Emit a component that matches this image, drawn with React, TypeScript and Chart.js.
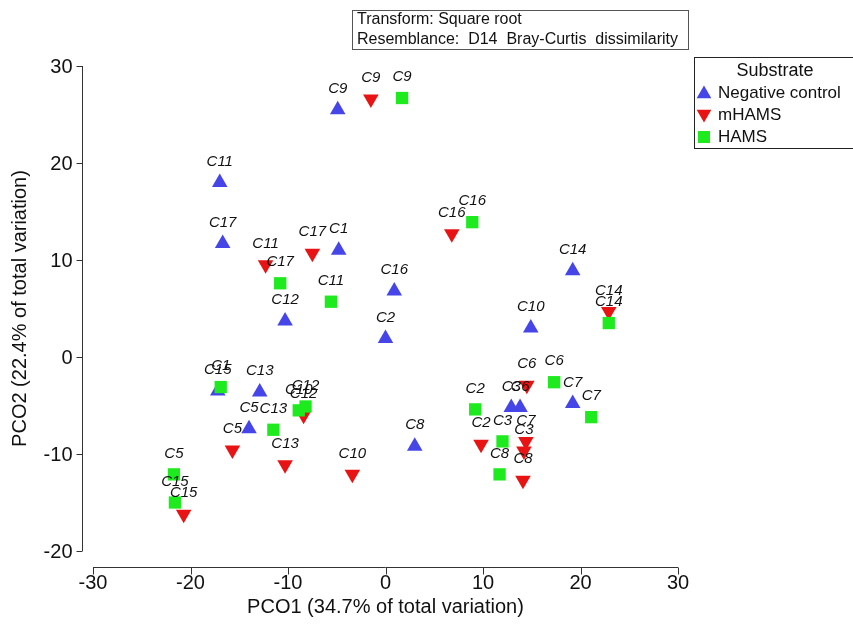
import React, { useEffect, useRef } from "react";
import { Chart, registerables } from "chart.js";

Chart.register(...registerables);

// PCO ordination scores per substrate group
const negLabels = ["C9", "C11", "C17", "C1", "C16", "C12", "C2", "C14", "C10", "C15", "C13", "C5", "C8", "C3", "C6", "C7"];
const negX = [-4.9, -17.0, -16.7, -4.8, 0.9, -10.3, 0.0, 19.2, 14.9, -17.2, -12.9, -14.0, 3.0, 12.9, 13.8, 19.2];
const negY = [25.5, 18.0, 11.7, 11.0, 6.8, 3.7, 1.9, 8.9, 3.0, -3.5, -3.6, -7.4, -9.2, -5.2, -5.2, -4.8];

const mhLabels = ["C9", "C16", "C11", "C17", "C14", "C12", "C5", "C13", "C10", "C15", "C2", "C6", "C7", "C3", "C8"];
const mhX = [-1.5, 6.8, -12.3, -7.5, 22.9, -8.4, -15.7, -10.3, -3.4, -20.7, 9.8, 14.5, 14.4, 14.2, 14.1];
const mhY = [26.6, 12.7, 9.5, 10.7, 4.7, -6.0, -9.6, -11.1, -12.1, -16.2, -9.0, -2.9, -8.7, -9.7, -12.7];

const hLabels = ["C9", "C16", "C17", "C11", "C14", "C1", "C10", "C12", "C13", "C5", "C15", "C6", "C7", "C2", "C3", "C8"];
const hX = [1.7, 8.9, -10.8, -5.6, 22.9, -16.9, -8.9, -8.2, -11.5, -21.7, -21.6, 17.3, 21.1, 9.2, 12.0, 11.7];
const hY = [26.7, 13.9, 7.6, 5.7, 3.5, -3.1, -5.5, -5.1, -7.5, -12.1, -15.0, -2.6, -6.2, -5.4, -8.7, -12.1];

const xTicks = [-30, -20, -10, 0, 10, 20, 30];
const yTicks = [-20, -10, 0, 10, 20, 30];

const groupNames = ["Negative control", "mHAMS", "HAMS"];
const groupColors = ["#4646e8", "#e81414", "#1eeb1e"];

const xTitle = "PCO1 (34.7% of total variation)";
const yTitle = "PCO2 (22.4% of total variation)";
const legendTitle = "Substrate";
const noteLines = ["Transform: Square root", "Resemblance:  D14  Bray-Curtis  dissimilarity"];

const FONT = '"Liberation Sans", Arial, sans-serif';

const toPoints = (xs: number[], ys: number[]) => xs.map((x, i) => ({ x, y: ys[i] }));

function drawMarker(ctx: CanvasRenderingContext2D, kind: number, x: number, y: number, r: number) {
  ctx.beginPath();
  if (kind === 2) {
    const s = r * Math.SQRT1_2;
    ctx.rect(x - s, y - s, 2 * s, 2 * s);
  } else {
    let a = kind === 1 ? Math.PI : 0;
    for (let k = 0; k < 3; k++) {
      const px = x + Math.sin(a) * r;
      const py = y - Math.cos(a) * r;
      if (k === 0) ctx.moveTo(px, py);
      else ctx.lineTo(px, py);
      a += (2 * Math.PI) / 3;
    }
    ctx.closePath();
  }
  ctx.fillStyle = groupColors[kind];
  ctx.fill();
}

const decorations = {
  id: "pcoDecorations",
  afterDatasetsDraw(chart: any) {
    const ctx: CanvasRenderingContext2D = chart.ctx;
    const xs = chart.scales.x;
    const ys = chart.scales.y;
    const area = chart.chartArea;
    ctx.save();

    // sample labels
    const labelSets = [
      [negLabels, negX, negY],
      [mhLabels, mhX, mhY],
      [hLabels, hX, hY],
    ] as [string[], number[], number[]][];
    ctx.font = `italic 15px ${FONT}`;
    ctx.fillStyle = "#111";
    ctx.textAlign = "center";
    ctx.textBaseline = "middle";
    labelSets.forEach(([labs, vx, vy]) => {
      labs.forEach((lab, i) => {
        ctx.fillText(lab, xs.getPixelForValue(vx[i]), ys.getPixelForValue(vy[i]) - 21);
      });
    });

    ctx.strokeStyle = "#333";
    ctx.lineWidth = 1;
    ctx.fillStyle = "#111";

    // detached y axis
    const ax = Math.round(area.left - 11) + 0.5;
    const yTop = ys.getPixelForValue(yTicks[yTicks.length - 1]);
    const yBot = ys.getPixelForValue(yTicks[0]);
    ctx.beginPath();
    ctx.moveTo(ax, yTop);
    ctx.lineTo(ax, yBot);
    yTicks.forEach((t) => {
      const py = Math.round(ys.getPixelForValue(t)) + 0.5;
      ctx.moveTo(ax, py);
      ctx.lineTo(ax - 6, py);
    });
    ctx.stroke();
    ctx.font = `20px ${FONT}`;
    ctx.textAlign = "right";
    ctx.textBaseline = "middle";
    yTicks.forEach((t) => {
      ctx.fillText(String(t), ax - 10, ys.getPixelForValue(t) + 1);
    });

    // detached x axis
    const ay = Math.round(area.bottom + 16) + 0.5;
    const xL = xs.getPixelForValue(xTicks[0]);
    const xR = xs.getPixelForValue(xTicks[xTicks.length - 1]);
    ctx.beginPath();
    ctx.moveTo(xL, ay);
    ctx.lineTo(xR, ay);
    xTicks.forEach((t) => {
      const px = Math.round(xs.getPixelForValue(t)) + 0.5;
      ctx.moveTo(px, ay);
      ctx.lineTo(px, ay + 7);
    });
    ctx.stroke();
    ctx.textAlign = "center";
    ctx.textBaseline = "middle";
    xTicks.forEach((t) => {
      ctx.fillText(String(t), xs.getPixelForValue(t), ay + 16);
    });

    // axis titles
    ctx.fillText(xTitle, (xL + xR) / 2, ay + 40);
    ctx.save();
    ctx.translate(20, (yTop + yBot) / 2);
    ctx.rotate(-Math.PI / 2);
    ctx.fillText(yTitle, 0, 0);
    ctx.restore();

    // transform / resemblance note
    ctx.strokeStyle = "#555";
    ctx.strokeRect(352.5, 10.5, 336, 39);
    ctx.font = `16px ${FONT}`;
    ctx.textAlign = "left";
    ctx.fillStyle = "#111";
    ctx.fillText(noteLines[0], 357, 20);
    ctx.fillText(noteLines[1], 357, 40);

    // legend
    ctx.strokeStyle = "#222";
    ctx.strokeRect(694.5, 57.5, 180, 91);
    ctx.font = `18px ${FONT}`;
    ctx.textAlign = "center";
    ctx.fillText(legendTitle, 775, 71);
    ctx.font = `17px ${FONT}`;
    ctx.textAlign = "left";
    groupNames.forEach((name, k) => {
      const cy = 93 + k * 22;
      drawMarker(ctx, k, 704, k === 0 ? cy + 1 : k === 1 ? cy - 1 : cy, 8.5);
      ctx.fillStyle = "#111";
      ctx.fillText(name, 718, cy);
    });

    ctx.restore();
  },
};

export default function App() {
  const canvasRef = useRef<HTMLCanvasElement | null>(null);

  useEffect(() => {
    const canvas = canvasRef.current;
    if (!canvas) return;
    const chart = new Chart(canvas, {
      type: "scatter",
      data: {
        datasets: [
          {
            label: groupNames[0],
            data: toPoints(negX, negY),
            pointStyle: "triangle",
            pointRadius: 9,
            pointHoverRadius: 9,
            pointBorderWidth: 0,
            backgroundColor: groupColors[0],
            borderColor: groupColors[0],
            order: 2,
            clip: false,
          },
          {
            label: groupNames[1],
            data: toPoints(mhX, mhY),
            pointStyle: "triangle",
            rotation: 180,
            pointRadius: 9,
            pointHoverRadius: 9,
            pointBorderWidth: 0,
            backgroundColor: groupColors[1],
            borderColor: groupColors[1],
            order: 1,
            clip: false,
          },
          {
            label: groupNames[2],
            data: toPoints(hX, hY),
            pointStyle: "rect",
            pointRadius: 8.7,
            pointHoverRadius: 8.7,
            pointBorderWidth: 0,
            backgroundColor: groupColors[2],
            borderColor: groupColors[2],
            order: 0,
            clip: false,
          },
        ],
      },
      options: {
        responsive: false,
        animation: false,
        devicePixelRatio: 1,
        layout: { padding: { left: 93, right: 175, top: 66, bottom: 73 } },
        scales: {
          x: { type: "linear", min: -30, max: 30, display: false },
          y: { type: "linear", min: -20, max: 30, display: false },
        },
        plugins: {
          legend: { display: false },
          tooltip: { enabled: false },
        },
        events: [],
      },
      plugins: [decorations],
    });
    return () => chart.destroy();
  }, []);

  return (
    <div style={{ position: "fixed", left: 0, top: 0, width: 853, height: 624, background: "#fff" }}>
      <canvas ref={canvasRef} width={853} height={624} style={{ display: "block" }} />
    </div>
  );
}
